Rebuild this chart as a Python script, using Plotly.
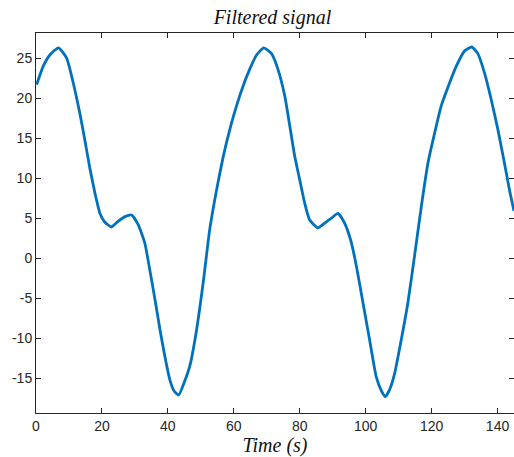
import plotly.graph_objects as go

# Values (time in s, filtered signal)
time_s = [0.2, 2.2, 4.2, 6.8, 9.3, 11.3, 13.3, 14.8, 16.4, 17.9, 19.4, 20.9, 22.9, 24.9,
          27.0, 29.0, 31.0, 33.0, 34.5, 36.1, 37.6, 39.1, 40.6, 41.9, 43.3, 44.9, 46.7,
          48.5, 50.7, 52.7, 54.8, 56.8, 58.8, 60.8, 62.8, 64.8, 66.9, 69.1, 71.4, 73.4,
          75.5, 77.0, 78.5, 80.0, 81.5, 83.0, 85.5, 87.6, 89.6, 91.6, 93.6, 95.5, 97.2,
          99.2, 101.2, 103.2, 104.8, 106.0, 107.3, 108.8, 110.8, 112.8, 114.8, 116.9,
          118.9, 120.9, 122.9, 124.9, 127.5, 130.0, 132.2, 134.0, 136.1, 138.1, 140.1,
          142.1, 143.6, 145.0]
signal = [21.7, 24.0, 25.4, 26.3, 25.0, 21.9, 18.1, 14.8, 11.1, 8.1, 5.6, 4.5, 3.9, 4.6,
          5.2, 5.4, 4.2, 1.9, -1.4, -5.2, -8.9, -12.3, -15.2, -16.6, -17.1, -15.6, -13.4,
          -9.5, -3.1, 3.6, 8.6, 12.7, 16.1, 19.0, 21.5, 23.6, 25.4, 26.3, 25.6, 23.6,
          20.2, 16.5, 12.7, 9.8, 6.9, 4.8, 3.8, 4.4, 5.0, 5.6, 4.4, 2.2, -1.0,
          -5.6, -10.2, -14.8, -16.6, -17.3, -16.4, -14.4, -10.2, -5.6, 0.2, 6.5,
          11.9, 15.6, 19.0, 21.3, 24.0, 25.9, 26.4, 25.6, 23.1, 19.8, 16.1,
          11.9, 8.6, 5.9]

x_ticks = [0, 20, 40, 60, 80, 100, 120, 140]
y_ticks = [-15, -10, -5, 0, 5, 10, 15, 20, 25]

AX = "#262626"
TICKFONT = dict(family="Liberation Sans, Arial, sans-serif", size=14, color=AX)
SERIF = "Liberation Serif, Times New Roman, serif"

fig = go.Figure()
fig.add_trace(go.Scatter(
    x=time_s, y=signal, mode="lines",
    line=dict(color="#0072BD", width=2.8, shape="spline", smoothing=0.5),
    showlegend=False,
))

fig.update_layout(
    width=514, height=457,
    margin=dict(l=36, r=0, t=33, b=44, autoexpand=False),
    paper_bgcolor="white", plot_bgcolor="white",
    title=dict(text="<i>Filtered signal</i>", x=0.53, xanchor="center",
               y=0.962, yanchor="middle",
               font=dict(family=SERIF, size=20, color="#111")),
)
fig.update_xaxes(
    range=[0, 145], tickvals=x_ticks, ticktext=[str(v) for v in x_ticks],
    showgrid=False, zeroline=False, showline=True, linecolor=AX, linewidth=1,
    mirror="allticks", ticks="inside", ticklen=5, tickcolor=AX, tickwidth=1,
    tickfont=TICKFONT, automargin=False,
    title=dict(text="<i>Time (s)</i>", standoff=0,
               font=dict(family=SERIF, size=20, color="#111")),
)
fig.update_yaxes(
    range=[-19.35, 28.15], tickvals=y_ticks, ticktext=[str(v) for v in y_ticks],
    showgrid=False, zeroline=False, showline=True, linecolor=AX, linewidth=1,
    mirror="allticks", ticks="inside", ticklen=5, tickcolor=AX, tickwidth=1,
    tickfont=TICKFONT, automargin=False,
)

fig.write_html("out.html", config={"displayModeBar": False},
               post_script="document.body.style.margin='0';document.body.style.overflow='hidden';")
